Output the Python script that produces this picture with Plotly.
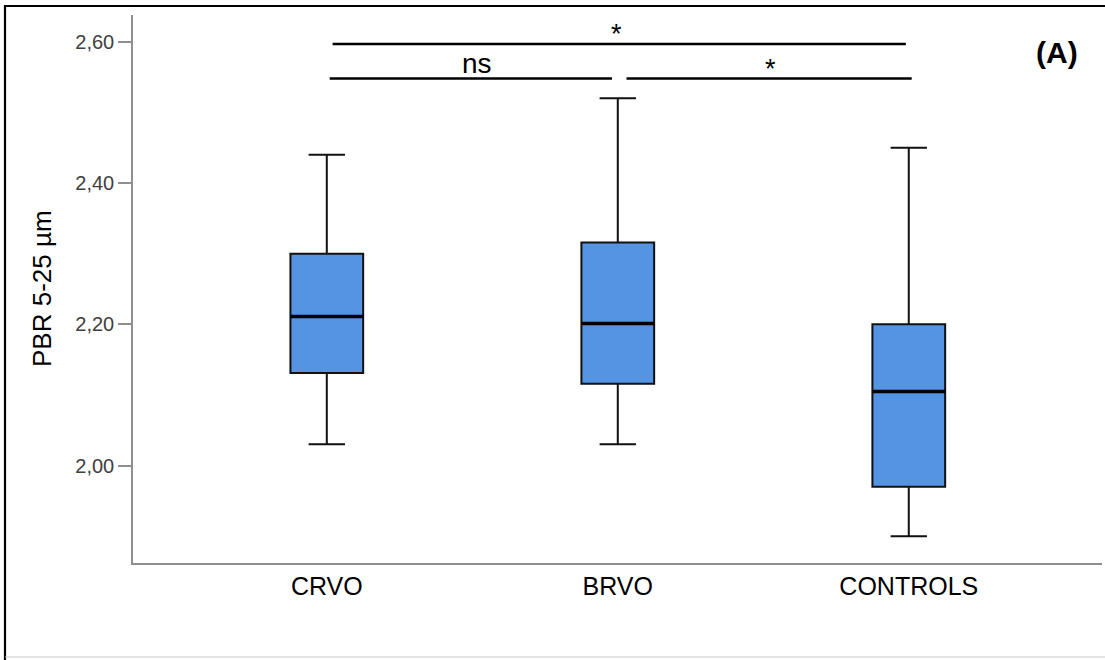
import plotly.graph_objects as go

# ---- data ----
categories = ["CRVO", "BRVO", "CONTROLS"]
positions = [0, 1, 2]
q1 = [2.131, 2.116, 1.970]
median = [2.211, 2.201, 2.105]
q3 = [2.300, 2.316, 2.200]
lower_fence = [2.030, 2.030, 1.900]
upper_fence = [2.440, 2.520, 2.450]

y_ticks = [2.00, 2.20, 2.40, 2.60]
y_ticktext = ["2,00", "2,20", "2,40", "2,60"]

# significance brackets: (x start, x end, y level)
sig_lines = [
    (0.02, 1.99, 2.597),
    (0.01, 0.98, 2.548),
    (1.03, 2.01, 2.548),
]
# labels: (text, x, y, font size)
sig_labels = [
    ("*", 0.997, 2.611, 27),
    ("ns", 0.516, 2.569, 28),
    ("*", 1.524, 2.562, 27),
]

BOX_W = 0.25
FONT = "Arial, Liberation Sans, sans-serif"

fig = go.Figure()
fig.add_trace(go.Box(
    x=positions,
    q1=q1, median=median, q3=q3,
    lowerfence=lower_fence, upperfence=upper_fence,
    width=BOX_W,
    whiskerwidth=0.5,
    fillcolor="#5594E3",
    line=dict(color="#111111", width=2),
    boxpoints=False,
    hoverinfo="skip",
    showlegend=False,
))

shapes = []
# thicker median lines
for p, m in zip(positions, median):
    shapes.append(dict(type="line", xref="x", yref="y",
                       x0=p - BOX_W / 2, x1=p + BOX_W / 2, y0=m, y1=m,
                       line=dict(color="black", width=3.5)))
# significance lines
for x0, x1, y in sig_lines:
    shapes.append(dict(type="line", xref="x", yref="y",
                       x0=x0, x1=x1, y0=y, y1=y,
                       line=dict(color="black", width=2.5)))

# outer frame (pixel -> paper conversion for plot area l=133, w=969, t=15, h=548)
def px(x):
    return (x - 133) / 969.0

def py(y):
    return (563 - y) / 548.0

shapes.append(dict(type="line", xref="paper", yref="paper",
                   x0=px(5), x1=px(5), y0=py(5), y1=py(660),
                   line=dict(color="black", width=2.2)))
shapes.append(dict(type="line", xref="paper", yref="paper",
                   x0=px(4), x1=px(1106), y0=py(6), y1=py(6),
                   line=dict(color="black", width=2.2)))
shapes.append(dict(type="line", xref="paper", yref="paper",
                   x0=px(5), x1=px(1106), y0=py(657), y1=py(657),
                   line=dict(color="#c8c8c8", width=1)))

annotations = []
for txt, x, y, s in sig_labels:
    annotations.append(dict(text=txt, x=x, y=y, xref="x", yref="y",
                            xanchor="center", yanchor="middle", showarrow=False,
                            font=dict(family=FONT, size=s, color="black")))
annotations.append(dict(text="<b>(A)</b>", x=px(1057), y=py(52),
                        xref="paper", yref="paper", xanchor="center", yanchor="middle",
                        showarrow=False, font=dict(family=FONT, size=30, color="black")))
annotations.append(dict(text="PBR 5-25 µm", x=px(42), y=py(289),
                        xref="paper", yref="paper", xanchor="center", yanchor="middle",
                        textangle=-90, showarrow=False,
                        font=dict(family=FONT, size=26, color="black")))

fig.update_layout(
    width=1105, height=660,
    margin=dict(l=133, r=3, t=15, b=97),
    paper_bgcolor="white", plot_bgcolor="white",
    shapes=shapes, annotations=annotations,
    showlegend=False,
)
fig.update_xaxes(
    range=[-0.666, 2.664],
    tickvals=positions, ticktext=categories,
    showgrid=False, zeroline=False,
    showline=True, linecolor="#8f8f8f", linewidth=1.5,
    ticks="", tickfont=dict(family=FONT, size=25, color="black"),
)
fig.update_yaxes(
    range=[1.862, 2.638],
    tickvals=y_ticks, ticktext=y_ticktext,
    showgrid=False, zeroline=False,
    showline=True, linecolor="#8f8f8f", linewidth=1.5,
    ticks="outside", ticklen=13, tickwidth=1.5, tickcolor="#8f8f8f",
    tickfont=dict(family=FONT, size=20, color="#404040"),
)

fig.write_html("out.html",
               config={"displayModeBar": False},
               post_script="document.body.style.margin='0px';document.body.style.overflow='hidden';")
